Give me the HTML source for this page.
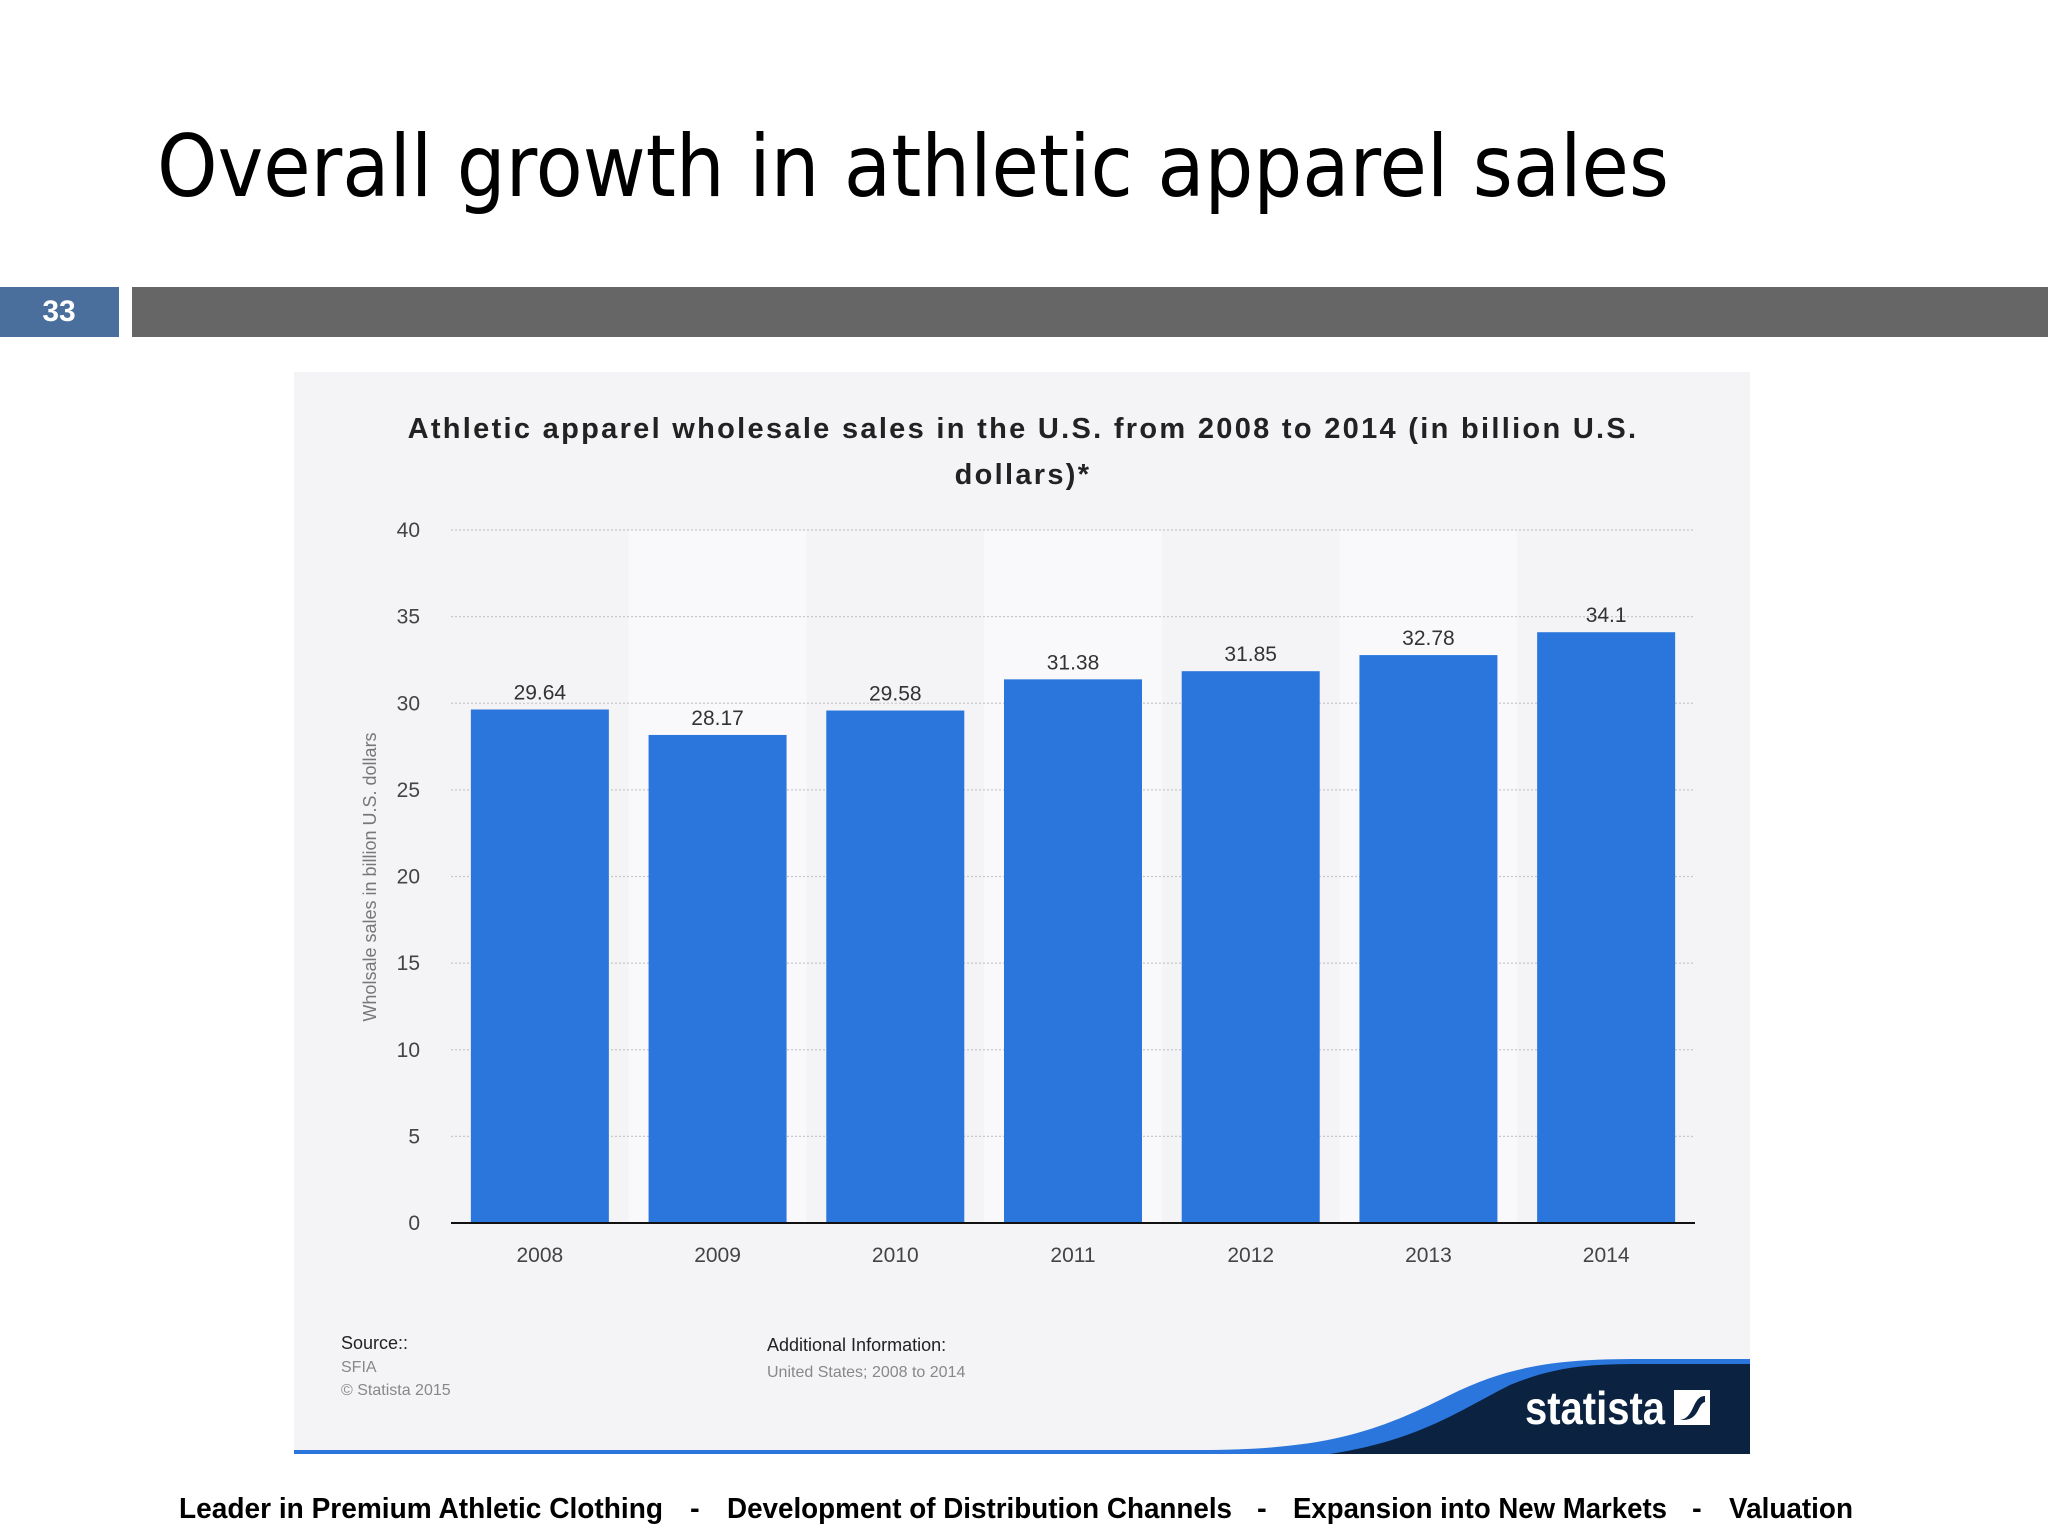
<!DOCTYPE html>
<html><head><meta charset="utf-8"><style>
html,body{margin:0;padding:0;background:#fff}
svg{display:block}
text{font-family:"Liberation Sans",sans-serif}
</style></head><body>
<svg id="chart" width="2048" height="1536" viewBox="0 0 2048 1536" xmlns="http://www.w3.org/2000/svg">
<text x="157" y="196" font-size="86" textLength="1512" lengthAdjust="spacingAndGlyphs" style="font-family:'DejaVu Sans',sans-serif" fill="#000">Overall growth in athletic apparel sales</text>
<rect x="0" y="287" width="119" height="50" fill="#4a6f9c"/>
<text x="59" y="321" font-size="30" font-weight="bold" fill="#fff" text-anchor="middle">33</text>
<rect x="132" y="287" width="1916" height="50" fill="#666"/>
<rect x="294" y="372" width="1456" height="1082" fill="#f4f3f6"/>
<text x="1023" y="438" font-size="29" font-weight="bold" text-anchor="middle" fill="#222" letter-spacing="2.3">Athletic apparel wholesale sales in the U.S. from 2008 to 2014 (in billion U.S.</text>
<text x="1023" y="484" font-size="29" font-weight="bold" text-anchor="middle" fill="#222" letter-spacing="2.3">dollars)*</text>
<g id="bands"></g><g id="grid"></g><g id="bars"></g>
<line x1="451" y1="1223" x2="1695" y2="1223" stroke="#111" stroke-width="2"/>
<text transform="translate(376,877) rotate(-90)" font-size="18" fill="#777" text-anchor="middle">Wholsale sales in billion U.S. dollars</text>
<text x="341" y="1349" font-size="18" fill="#222">Source::</text>
<text x="341" y="1372" font-size="16" fill="#888">SFIA</text>
<text x="341" y="1395" font-size="16" fill="#888">© Statista 2015</text>
<text x="767" y="1351" font-size="18" fill="#222">Additional Information:</text>
<text x="767" y="1377" font-size="16" fill="#888">United States; 2008 to 2014</text>
<path d="M294 1450 L1200 1450 C1330 1450 1380 1430 1450 1395 C1510 1365 1560 1359 1640 1359 L1750 1359 L1750 1454 L294 1454 Z" fill="#2a76dd"/>
<path d="M1330 1454 C1420 1440 1460 1410 1510 1385 C1560 1364 1600 1364 1650 1364 L1750 1364 L1750 1454 Z" fill="#0b2340"/>
<text x="1525" y="1424" font-size="46" font-weight="bold" fill="#fff" textLength="140" lengthAdjust="spacingAndGlyphs">statista</text>
<path d="M1674 1390 L1710 1390 L1710 1425 L1674 1425 Z M1680 1420 C1695 1418 1692 1396 1705 1396 L1705 1402 C1697 1404 1700 1419 1684 1420 Z" fill="#fff" fill-rule="evenodd"/>
<g font-size="29" font-weight="bold" fill="#000" style="font-family:'DejaVu Sans',sans-serif">
<text x="179" y="1518" textLength="484" lengthAdjust="spacingAndGlyphs">Leader in Premium Athletic Clothing</text>
<text x="690" y="1518">-</text>
<text x="727" y="1518" textLength="505" lengthAdjust="spacingAndGlyphs">Development of Distribution Channels</text>
<text x="1257" y="1518">-</text>
<text x="1293" y="1518" textLength="374" lengthAdjust="spacingAndGlyphs">Expansion into New Markets</text>
<text x="1692" y="1518">-</text>
<text x="1729" y="1518" textLength="124" lengthAdjust="spacingAndGlyphs">Valuation</text>
</g>
</svg>
<script>
const categories = ["2008","2009","2010","2011","2012","2013","2014"];
const values = [29.64, 28.17, 29.58, 31.38, 31.85, 32.78, 34.1];
const valueLabels = ["29.64","28.17","29.58","31.38","31.85","32.78","34.1"];
const yTicks = [0,5,10,15,20,25,30,35,40];

const NS = "http://www.w3.org/2000/svg";
const X0 = 451, X1 = 1695, Y0 = 1223, Y1 = 530, YMAX = 40;
const step = (X1 - X0) / categories.length;
const bw = 138;
function y(v){ return Y0 - v / YMAX * (Y0 - Y1); }
function xc(i){ return X0 + step * (i + 0.5); }
function mk(tag, attrs, parent){ const e = document.createElementNS(NS, tag); for (const k in attrs) e.setAttribute(k, attrs[k]); parent.appendChild(e); return e; }
const bands = document.getElementById('bands'), grid = document.getElementById('grid'), bars = document.getElementById('bars');
categories.forEach((c, i) => {
  if (i % 2 === 1) {
    const b = mk('rect', {x: X0 + step * i, y: Y1, width: step, height: Y0 - Y1, fill: '#f9f8fb'}, bands);
    
    
  }
});
yTicks.forEach(t => {
  if (t > 0) {
    const l = mk('line', {x1: X0, x2: X1, y1: y(t), y2: y(t), stroke: '#c8c8cc', 'stroke-width': 1.3, 'stroke-dasharray': '2,2'}, grid);
    
    
  }
  const tx = mk('text', {x: 420, y: y(t) + 7, 'font-size': 21, fill: '#444', 'text-anchor': 'end'}, grid);
  
  
  tx.textContent = t;
});
categories.forEach((c, i) => {
  const r = mk('rect', {x: xc(i) - bw / 2, y: y(values[i]), width: bw, height: Y0 - y(values[i]), fill: '#2a76dd'}, bars);
  
  
  const v = mk('text', {x: xc(i), y: y(values[i]) - 10, 'font-size': 21, fill: '#333', 'text-anchor': 'middle'}, bars);
  
  
  v.textContent = valueLabels[i];
  const l = mk('text', {x: xc(i), y: 1262, 'font-size': 21, fill: '#444', 'text-anchor': 'middle'}, bars);
  
  
  l.textContent = c;
});
</script>
</body></html>
